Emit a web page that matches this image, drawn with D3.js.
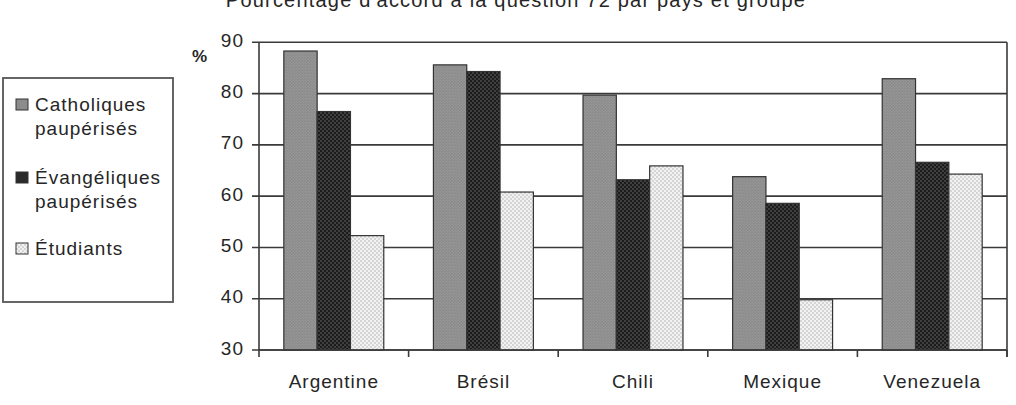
<!DOCTYPE html>
<html><head><meta charset="utf-8">
<script src="https://cdn.jsdelivr.net/npm/d3@7"></script>
<style>
body{margin:0;background:#fff;}
svg{display:block;font-family:"Liberation Sans",Arial,sans-serif;}
</style></head>
<body><svg id="c" width="1016" height="405"></svg>
<script>
const title = "Pourcentage d'accord à la question 72 par pays et groupe";
const categories = ["Argentine","Brésil","Chili","Mexique","Venezuela"];
const seriesNames = ["Catholiques paupérisés","Évangéliques paupérisés","Étudiants"];
const legendLines = [["Catholiques","paupérisés"],["Évangéliques","paupérisés"],["Étudiants"]];
const catholiques = [88.3, 85.6, 79.7, 63.8, 82.9];
const evangeliques = [76.5, 84.3, 63.2, 58.6, 66.6];
const etudiants = [52.3, 60.8, 65.9, 39.8, 64.3];
const yTicks = [30,40,50,60,70,80,90];
const yUnit = "%";

const svg = d3.select("#c");
const defs = svg.append("defs");
function dotPattern(id, bg, dot, size, r){
  const p = defs.append("pattern").attr("id",id).attr("patternUnits","userSpaceOnUse")
    .attr("width",size).attr("height",size);
  p.append("rect").attr("width",size).attr("height",size).attr("fill",bg);
  p.append("circle").attr("cx",size/4).attr("cy",size/4).attr("r",r).attr("fill",dot);
  p.append("circle").attr("cx",3*size/4).attr("cy",3*size/4).attr("r",r).attr("fill",dot);
}
dotPattern("pC","#8c8c8c","#a2a2a2",3,0.6);
dotPattern("pE","#1c1c1c","#6a6a6a",4,0.8);
dotPattern("pS","#f2f2f2","#b0b0b0",4,0.8);
const fills = ["url(#pC)","url(#pE)","url(#pS)"];
const legendFills = ["#8c8c8c","#2a2a2a","url(#pS)"];

const L=259, R=1007, T=42.3, B=350;
const y = d3.scaleLinear().domain([30,90]).range([B,T]);
const x0 = d3.scaleBand().domain(categories).range([L,R]).paddingInner(0).paddingOuter(0);
const x1 = d3.scaleBand().domain(seriesNames).range([0,x0.bandwidth()]).paddingInner(0).paddingOuter(0.745);
const data = [catholiques, evangeliques, etudiants];

const lineCol = "#3a3a3a";
// gridlines
svg.append("g").selectAll("line").data(yTicks).join("line")
  .attr("x1",L-7).attr("x2",R).attr("y1",d=>y(d)).attr("y2",d=>y(d))
  .attr("stroke",lineCol).attr("stroke-width",1.6);
// frame
svg.append("line").attr("x1",L).attr("x2",L).attr("y1",T).attr("y2",B).attr("stroke",lineCol).attr("stroke-width",1.6);
svg.append("line").attr("x1",R).attr("x2",R).attr("y1",T).attr("y2",B+7).attr("stroke",lineCol).attr("stroke-width",1.6);
// bottom ticks
const bounds = categories.map(c=>x0(c)).concat([R]);
svg.append("g").selectAll("line").data(bounds).join("line")
  .attr("x1",d=>d).attr("x2",d=>d).attr("y1",B).attr("y2",B+7)
  .attr("stroke",lineCol).attr("stroke-width",1.6);

// bars
const g = svg.append("g");
data.forEach((vals,si)=>{
  g.append("g").selectAll("rect").data(vals).join("rect")
    .attr("x",(d,i)=>x0(categories[i])+x1(seriesNames[si]))
    .attr("y",d=>y(d))
    .attr("width",x1.bandwidth())
    .attr("height",d=>B-y(d))
    .attr("fill",fills[si])
    .attr("stroke","#333").attr("stroke-width",1.2);
});
svg.append("line").attr("x1",L).attr("x2",R).attr("y1",B).attr("y2",B).attr("stroke",lineCol).attr("stroke-width",1.6);

const txt = {"font-size":"19px","letter-spacing":"1px","fill":"#262626"};
function styleT(s){ for(const k in txt) s.style(k,txt[k]); return s; }
// y labels
styleT(svg.append("g").selectAll("text").data(yTicks).join("text")
  .attr("x",244).attr("y",d=>y(d)+4.5).attr("text-anchor","end").text(d=>d));
svg.append("text").attr("x",192).attr("y",62).text(yUnit)
  .style("font-size","17px").style("font-weight","bold").style("fill","#262626");
// x labels
styleT(svg.append("g").selectAll("text").data(categories).join("text")
  .attr("x",d=>x0(d)+x0.bandwidth()/2).attr("y",388).attr("text-anchor","middle").text(d=>d));
// title
svg.append("text").attr("x",516).attr("y",7).attr("text-anchor","middle").text(title)
  .style("font-size","20px").style("letter-spacing","1.2px").style("fill","#262626");

// legend
svg.append("rect").attr("x",3).attr("y",78).attr("width",170).attr("height",224)
  .attr("fill","#fff").attr("stroke","#555").attr("stroke-width",1.8);
const legY = [111,184,255];
const lg = svg.append("g");
legendLines.forEach((lines,i)=>{
  lg.append("rect").attr("x",16).attr("y",legY[i]-12).attr("width",12).attr("height",11)
    .attr("fill",legendFills[i]).attr("stroke","#333").attr("stroke-width",1);
  lines.forEach((t,j)=>{
    styleT(lg.append("text").attr("x",35).attr("y",legY[i]+j*24).text(t));
  });
});
</script></body></html>
